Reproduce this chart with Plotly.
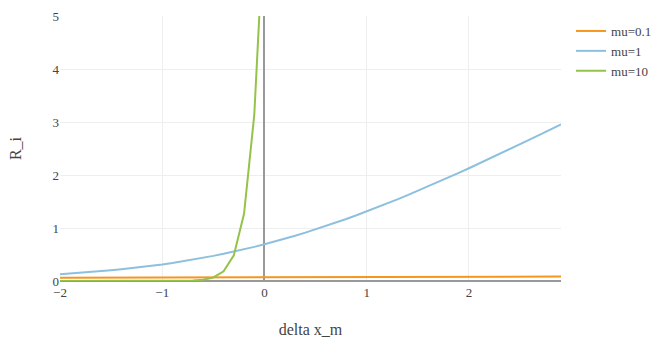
import plotly.graph_objects as go

x_vals = [-2.0, -1.9, -1.8, -1.7, -1.6, -1.5, -1.4, -1.3, -1.2, -1.1,
          -1.0, -0.9, -0.8, -0.7, -0.6, -0.5, -0.4, -0.3, -0.2, -0.1,
          0.0, 0.1, 0.2, 0.3, 0.4, 0.5, 0.6, 0.7, 0.8, 0.9,
          1.0, 1.1, 1.2, 1.3, 1.4, 1.5, 1.6, 1.7, 1.8, 1.9,
          2.0, 2.1, 2.2, 2.3, 2.4, 2.5, 2.6, 2.7, 2.8, 2.9]

r_mu01 = [0.0598, 0.0603, 0.0607, 0.0612, 0.0616, 0.0621, 0.0626, 0.0630, 0.0635, 0.0640,
          0.0644, 0.0649, 0.0654, 0.0659, 0.0664, 0.0668, 0.0673, 0.0678, 0.0683, 0.0688,
          0.0693, 0.0698, 0.0703, 0.0708, 0.0713, 0.0718, 0.0724, 0.0729, 0.0734, 0.0739,
          0.0744, 0.0750, 0.0755, 0.0760, 0.0766, 0.0771, 0.0776, 0.0782, 0.0787, 0.0793,
          0.0798, 0.0804, 0.0809, 0.0815, 0.0820, 0.0826, 0.0832, 0.0837, 0.0843, 0.0849]

r_mu1 = [0.127, 0.139, 0.153, 0.168, 0.184, 0.201, 0.220, 0.241, 0.263, 0.287,
         0.313, 0.341, 0.371, 0.403, 0.438, 0.474, 0.513, 0.554, 0.598, 0.644,
         0.693, 0.744, 0.798, 0.854, 0.913, 0.974, 1.038, 1.103, 1.171, 1.241,
         1.313, 1.387, 1.463, 1.541, 1.620, 1.701, 1.784, 1.868, 1.953, 2.039,
         2.127, 2.216, 2.305, 2.396, 2.487, 2.579, 2.672, 2.765, 2.859, 2.954]

r_mu10 = [0.0, 0.0, 0.0, 0.0, 0.0, 0.0, 0.0, 0.0, 0.0001, 0.0002,
          0.0005, 0.0012, 0.0034, 0.0091, 0.0248, 0.0672, 0.1815, 0.4859, 1.2693, 3.1326,
          6.9315, 13.133, 21.269, 30.486, 40.181, 50.067, 60.025, 70.009, 80.003, 90.001,
          100.0, 110.0, 120.0, 130.0, 140.0, 150.0, 160.0, 170.0, 180.0, 190.0,
          200.0, 210.0, 220.0, 230.0, 240.0, 250.0, 260.0, 270.0, 280.0, 290.0]

series_names = ["mu=0.1", "mu=1", "mu=10"]
series_values = [r_mu01, r_mu1, r_mu10]
series_colors = ["#f5961f", "#8cc0de", "#95c34a"]

fig = go.Figure()
for name, vals, col in zip(series_names, series_values, series_colors):
    fig.add_trace(go.Scatter(x=x_vals, y=vals, mode="lines", name=name,
                             line=dict(color=col, width=2)))

font_family = "Liberation Serif"
fig.update_layout(
    template="none",
    width=651, height=338,
    margin=dict(l=60, r=90, t=16, b=57, autoexpand=False),
    paper_bgcolor="white", plot_bgcolor="white",
    font=dict(family=font_family, size=13, color="#444"),
    showlegend=True,
    legend=dict(x=1.02, y=1, xanchor="left", yanchor="top",
                font=dict(family=font_family, size=13, color="#444"),
                bgcolor="rgba(0,0,0,0)"),
    xaxis=dict(title=dict(text="delta x_m", font=dict(family=font_family, size=16, color="#444"), standoff=27),
               automargin=False,
               range=[-2, 2.9], tickvals=[-2, -1, 0, 1, 2],
               ticktext=["\u22122", "\u22121", "0", "1", "2"],
               showgrid=True, gridcolor="#eeeeee", gridwidth=1,
               zeroline=True, zerolinecolor="#999999", zerolinewidth=2,
               showline=False, ticks="", ticklabelstandoff=2,
               tickfont=dict(family=font_family, size=13, color="#444")),
    yaxis=dict(title=dict(text="R_i", font=dict(family=font_family, size=16, color="#444"), standoff=26),
               automargin=False,
               range=[0, 5], tickvals=[0, 1, 2, 3, 4, 5],
               showgrid=True, gridcolor="#eeeeee", gridwidth=1,
               zeroline=True, zerolinecolor="#999999", zerolinewidth=2,
               showline=False, ticks="", tickfont=dict(family=font_family, size=13, color="#444")),
)

fig.write_html("out.html")
